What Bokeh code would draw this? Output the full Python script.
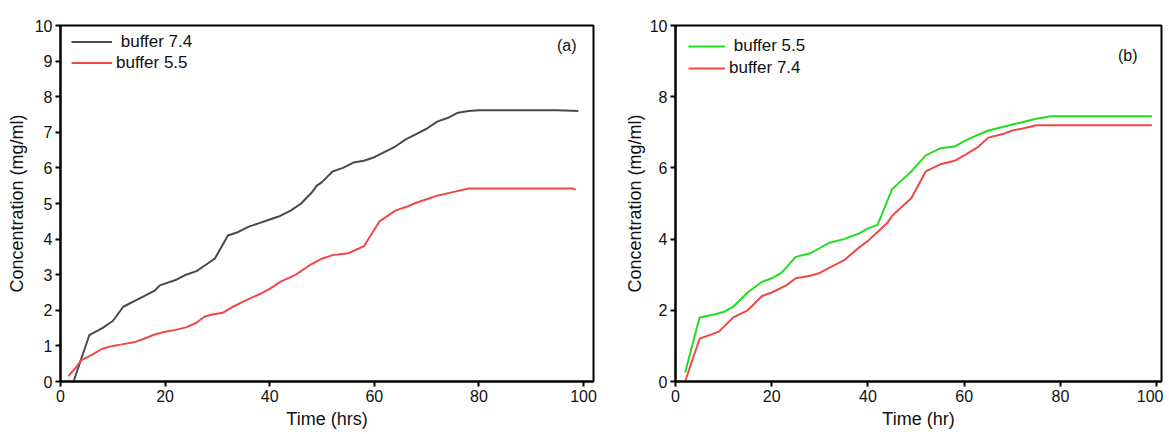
from bokeh.plotting import figure
from bokeh.layouts import row
from bokeh.models import Legend, LegendItem, Label, FixedTicker, Range1d
from bokeh.embed import file_html
from bokeh.resources import INLINE

# ---- Panel (a) data ----
a_t_74 = [2.5, 5.5, 8, 10, 12, 14, 16, 18, 19, 22, 24, 26, 28, 29.5, 32, 34, 36, 38, 40, 42, 44, 46, 48,
          49, 50, 52, 54, 56, 58, 60, 62, 64, 66, 68, 70, 72, 74, 76, 78, 80, 85, 90, 95, 99]
a_c_74 = [0.0, 1.3, 1.5, 1.7, 2.1, 2.25, 2.4, 2.55, 2.7, 2.85, 3.0, 3.1, 3.3, 3.45, 4.1, 4.2, 4.35, 4.45, 4.55,
          4.65, 4.8, 5.0, 5.3, 5.5, 5.6, 5.9, 6.0, 6.15, 6.2, 6.3, 6.45, 6.6, 6.8, 6.95, 7.1, 7.3, 7.4, 7.55,
          7.6, 7.62, 7.62, 7.62, 7.62, 7.6]
a_t_55 = [1.5, 3, 4, 6, 8, 10, 12, 14, 16, 18, 20, 22, 24, 26, 27.5, 29, 31, 33, 35, 38, 40, 42, 45, 48, 50,
          52, 55, 58, 61, 64, 66, 68, 70, 72, 75, 78, 80, 90, 98, 98.5]
a_c_55 = [0.15, 0.4, 0.6, 0.75, 0.92, 1.0, 1.05, 1.1, 1.2, 1.32, 1.4, 1.45, 1.52, 1.65, 1.82, 1.88, 1.93, 2.1,
          2.25, 2.45, 2.6, 2.8, 3.0, 3.3, 3.45, 3.55, 3.6, 3.8, 4.5, 4.8, 4.9, 5.02, 5.12, 5.22, 5.32, 5.42,
          5.42, 5.42, 5.42, 5.38]

# ---- Panel (b) data ----
b_t_55 = [2, 5, 8, 10, 12, 15, 18, 20, 22, 25, 28, 30, 32, 35, 38, 40, 42, 45, 47, 49, 52, 55, 58, 60, 62,
          65, 68, 70, 72, 75, 78, 99]
b_c_55 = [0.25, 1.8, 1.88, 1.95, 2.1, 2.5, 2.8, 2.9, 3.05, 3.5, 3.6, 3.75, 3.9, 4.0, 4.15, 4.3, 4.4, 5.4,
          5.65, 5.9, 6.35, 6.55, 6.6, 6.75, 6.88, 7.05, 7.15, 7.22, 7.28, 7.38, 7.45, 7.45]
b_t_74 = [2, 5, 9, 12, 15, 18, 20, 23, 25, 28, 30, 32, 35, 38, 40, 42, 44, 45, 47, 49, 52, 55, 58, 60, 63,
          65, 68, 70, 72, 75, 99]
b_c_74 = [0.0, 1.2, 1.4, 1.8, 2.0, 2.4, 2.5, 2.7, 2.9, 2.97, 3.05, 3.2, 3.4, 3.75, 3.95, 4.2, 4.45, 4.65,
          4.9, 5.15, 5.9, 6.1, 6.2, 6.35, 6.6, 6.85, 6.95, 7.05, 7.1, 7.2, 7.2]

x_ticks = [0, 20, 40, 60, 80, 100]
a_y_ticks = list(range(0, 11))
b_y_ticks = [0, 2, 4, 6, 8, 10]

FONT = "Liberation Sans"
BLACK_LINE = "#4a4a4a"
RED = "#f04848"
GREEN = "#22dd22"
TXT = "#111111"


def style(p, xlabel, ylabel, yticks, ylabel_standoff):
    p.outline_line_color = "black"
    p.outline_line_width = 2
    p.outline_line_alpha = 1
    p.xgrid.visible = False
    p.ygrid.visible = False
    p.xaxis.ticker = FixedTicker(ticks=x_ticks)
    p.yaxis.ticker = FixedTicker(ticks=yticks)
    for ax in (p.xaxis, p.yaxis):
        ax.axis_line_color = "black"
        ax.axis_line_width = 2
        ax.major_tick_line_color = "black"
        ax.major_tick_line_width = 2
        ax.major_tick_in = 0
        ax.major_tick_out = 5
        ax.minor_tick_line_color = None
        ax.major_label_text_font = FONT
        ax.major_label_text_font_size = "16px"
        ax.major_label_text_color = TXT
        ax.axis_label_text_font = FONT
        ax.axis_label_text_font_style = "normal"
        ax.axis_label_text_color = TXT
        ax.axis_label_text_font_size = "18px"
        ax.major_label_standoff = 3
    p.xaxis.axis_label = xlabel
    p.yaxis.axis_label = ylabel
    p.xaxis.axis_label_standoff = 4
    p.yaxis.axis_label_standoff = ylabel_standoff


H = 434

# ---- Panel (a) ----
pa = figure(width=620, height=H, output_backend="svg", toolbar_location=None,
            x_range=Range1d(0, 101.9), y_range=Range1d(0, 10),
            min_border_left=60, min_border_right=27, min_border_top=25, min_border_bottom=53)
style(pa, "Time (hrs)", "Concentration (mg/ml)", a_y_ticks, 5)
ra1 = pa.line(a_t_74, a_c_74, line_color=BLACK_LINE, line_width=2)
ra2 = pa.line(a_t_55, a_c_55, line_color=RED, line_width=2)
leg_a = Legend(items=[LegendItem(label=" buffer 7.4", renderers=[ra1]),
                      LegendItem(label="buffer 5.5", renderers=[ra2])],
               location=(11, 308), border_line_color=None, background_fill_alpha=0,
               label_text_font=FONT, label_text_font_size="17px", label_text_color=TXT,
               glyph_width=41, glyph_height=21, label_height=21, spacing=0, label_standoff=4,
               padding=0, margin=0)
pa.add_layout(leg_a)
pa.add_layout(Label(x=96.8, y=9.44, text="(a)", text_font=FONT, text_font_size="16px",
                    text_align="center", text_baseline="middle", text_color=TXT))

# ---- Panel (b) ----
pb = figure(width=543, height=H, output_backend="svg", toolbar_location=None,
            x_range=Range1d(0, 101.0), y_range=Range1d(0, 10),
            min_border_left=55, min_border_right=2, min_border_top=25, min_border_bottom=53)
style(pb, "Time (hr)", "Concentration (mg/ml)", b_y_ticks, 2)
rb1 = pb.line(b_t_55, b_c_55, line_color=GREEN, line_width=2)
rb2 = pb.line(b_t_74, b_c_74, line_color=RED, line_width=2)
leg_b = Legend(items=[LegendItem(label=" buffer 5.5", renderers=[rb1]),
                      LegendItem(label="buffer 7.4", renderers=[rb2])],
               location=(13, 302), border_line_color=None, background_fill_alpha=0,
               label_text_font=FONT, label_text_font_size="17px", label_text_color=TXT,
               glyph_width=37, glyph_height=22, label_height=22, spacing=0, label_standoff=4,
               padding=0, margin=0)
pb.add_layout(leg_b)
pb.add_layout(Label(x=94, y=9.16, text="(b)", text_font=FONT, text_font_size="16px",
                    text_align="center", text_baseline="middle", text_color=TXT))

layout = row(pa, pb)
open("out.html", "w").write(file_html(layout, INLINE))
